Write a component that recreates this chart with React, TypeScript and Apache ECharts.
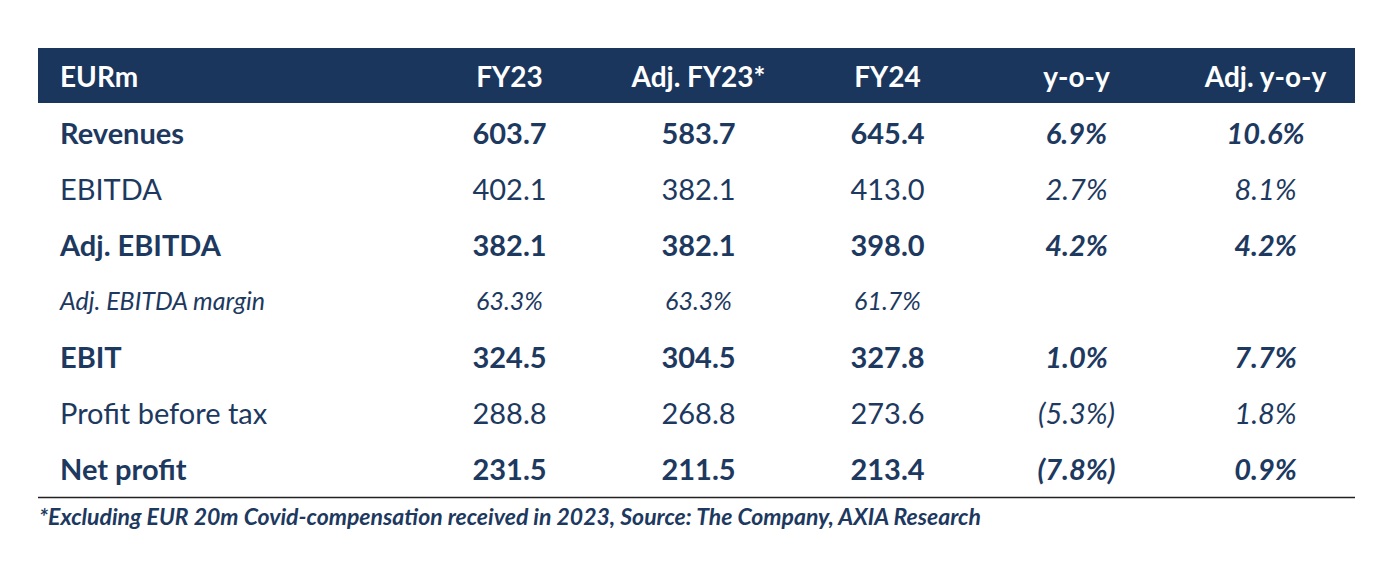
import React, { useEffect, useRef } from "react";
import * as echarts from "echarts";

// ---- data ----
const cornerLabel = "EURm";
const columns = ["FY23", "Adj. FY23*", "FY24", "y-o-y", "Adj. y-o-y"];
const rows = [
  "Revenues",
  "EBITDA",
  "Adj. EBITDA",
  "Adj. EBITDA margin",
  "EBIT",
  "Profit before tax",
  "Net profit",
];
const fy23 = ["603.7", "402.1", "382.1", "63.3%", "324.5", "288.8", "231.5"];
const adjFy23 = ["583.7", "382.1", "382.1", "63.3%", "304.5", "268.8", "211.5"];
const fy24 = ["645.4", "413.0", "398.0", "61.7%", "327.8", "273.6", "213.4"];
const yoy = ["6.9%", "2.7%", "4.2%", "", "1.0%", "(5.3%)", "(7.8%)"];
const adjYoy = ["10.6%", "8.1%", "4.2%", "", "7.7%", "1.8%", "0.9%"];
const footnote =
  "*Excluding EUR 20m Covid-compensation received in 2023, Source: The Company, AXIA Research";

const boldRows = ["Revenues", "Adj. EBITDA", "EBIT", "Net profit"];
const italicRows = ["Adj. EBITDA margin"];
const italicColumns = ["y-o-y", "Adj. y-o-y"];

// ---- styles ----
const FONT = "Lato";
const NAVY = "#1a365d";
const TEXT = "#1d3960";
const HEAD = 28;
const BIG = 29;
const SMALL = 25;
const NOTE = 23;

export default function App() {
  const ref = useRef<HTMLDivElement>(null);
  useEffect(() => {
    document.body.style.margin = "0";
    const chart = echarts.init(ref.current!, undefined, { renderer: "svg" });
    const cols = [fy23, adjFy23, fy24, yoy, adjYoy];

    const rowKind = (r: string) =>
      boldRows.includes(r) ? "b" : italicRows.includes(r) ? "i" : "n";

    const data: any[] = [];
    rows.forEach((r, ri) => {
      cols.forEach((arr, ci) => {
        const txt = arr[ri];
        if (!txt) return;
        const kind = rowKind(r);
        const italic = kind === "i" || italicColumns.includes(columns[ci]);
        data.push({
          value: [ci, ri],
          label: {
            fontWeight: kind === "b" ? "bold" : "normal",
            fontStyle: italic ? "italic" : "normal",
            fontSize: kind === "i" ? SMALL : BIG,
          },
        });
      });
    });

    chart.setOption({
      animation: false,
      grid: { left: 415, width: 945, top: 104, height: 392, containLabel: false },
      xAxis: {
        type: "category",
        position: "top",
        data: columns,
        z: 10,
        axisLine: { show: false },
        axisTick: { show: false },
        splitLine: { show: false },
        axisLabel: {
          color: "#ffffff",
          fontFamily: FONT,
          fontWeight: "bold",
          fontSize: HEAD,
          margin: 28,
          verticalAlign: "middle",
        },
      },
      yAxis: {
        type: "category",
        inverse: true,
        data: rows,
        axisLine: { show: false },
        axisTick: { show: false },
        splitLine: { show: false },
        axisLabel: {
          align: "left",
          margin: 355,
          formatter: (v: string) => `{${rowKind(v)}|${v}}`,
          rich: {
            b: { fontFamily: FONT, fontWeight: "bold", fontSize: BIG, color: TEXT },
            n: { fontFamily: FONT, fontWeight: "normal", fontSize: BIG, color: TEXT },
            i: {
              fontFamily: FONT,
              fontWeight: "normal",
              fontStyle: "italic",
              fontSize: SMALL,
              color: TEXT,
            },
          },
        },
      },
      graphic: [
        {
          type: "rect",
          z: 0,
          shape: { x: 38, y: 48, width: 1317, height: 55 },
          style: { fill: NAVY },
        },
        {
          type: "text",
          z: 20,
          x: 60,
          y: 76,
          style: {
            text: cornerLabel,
            fill: "#ffffff",
            font: `bold ${HEAD}px ${FONT}`,
            verticalAlign: "middle",
            align: "left",
          },
        },
        {
          type: "line",
          shape: { x1: 38, y1: 497.5, x2: 1355, y2: 497.5 },
          style: { stroke: "#222222", lineWidth: 1.5 },
        },
        {
          type: "text",
          x: 39,
          y: 516,
          style: {
            text: footnote,
            fill: TEXT,
            font: `italic bold ${NOTE}px ${FONT}`,
            verticalAlign: "middle",
            align: "left",
          },
        },
      ],
      series: [
        {
          type: "scatter",
          symbol: "circle",
          symbolSize: 2,
          itemStyle: { color: "rgba(0,0,0,0)" },
          silent: true,
          data,
          label: {
            show: true,
            position: "inside",
            color: TEXT,
            opacity: 1,
            textBorderWidth: 0,
            fontFamily: FONT,
            formatter: (p: any) => cols[p.value[0]][p.value[1]],
          },
        },
      ],
    });
    return () => chart.dispose();
  }, []);
  return (
    <div
      ref={ref}
      style={{ position: "absolute", left: 0, top: 0, width: 1380, height: 567 }}
    />
  );
}
